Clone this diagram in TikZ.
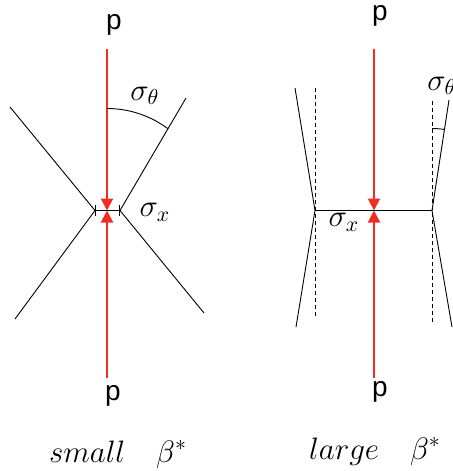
\RequirePackage{fix-cm}
\documentclass[tikz,border=0pt]{standalone}
\usepackage{fontspec}
\setmainfont{Liberation Sans}
\usepackage{tikz}
\usetikzlibrary{arrows.meta}
\definecolor{beamred}{RGB}{240,45,35}

\begin{document}
\begin{tikzpicture}[
    x=0.5pt, y=-0.5pt,
    beam/.style={draw=beamred, line width=1pt,
      -{Triangle[length=6pt,width=6pt]}},
    envelope/.style={draw=black, line width=0.45pt},
    beamaxis/.style={draw=black, line width=0.45pt, dash pattern=on 2pt off 1.5pt},
    waist/.style={envelope, {Bar[width=5.5pt]}-{Bar[width=5.5pt]}},
    plabel/.style={font=\fontsize{14}{16}\selectfont},
    mlabel/.style={font=\fontsize{15.5}{18}\selectfont}
  ]
    \useasboundingbox (0,0) rectangle (452,471);
    % small beta*
    \node[plabel] (pTopL) at (114,25) {p};
    \node[plabel] (pBotL) at (113,396) {p};
    \coordinate (beamTopL) at (107,49);
    \coordinate (beamBotL) at (107,378);
    \coordinate (focusL) at (107,210.5);
    \coordinate (waistLa) at (95,210.5);
    \coordinate (waistLb) at (120,210.5);
    \draw[envelope] (10,107) -- (waistLa) -- (15,319);
    \draw[envelope] (186,98) -- (waistLb) -- (204,313);
    \draw[waist] (waistLa) -- (waistLb);
    \draw[beam] (beamTopL) -- (focusL);
    \draw[beam] (beamBotL) -- (focusL);
    \draw[envelope] (107,108.5) arc[start angle=-90, end angle=-53.4, radius=102];
    \node[mlabel] (thetaL) at (145,96) {$\sigma_\theta$};
    \node[mlabel] (sizeL) at (155,212) {$\sigma_x$};
    \node[mlabel, anchor=base] (titleL) at (118,462) {$small\quad\beta^*$};
    % large beta*
    \node[plabel] (pTopR) at (380,16) {p};
    \node[plabel] (pBotR) at (380,392) {p};
    \coordinate (beamTopR) at (374,49);
    \coordinate (beamBotR) at (374,378);
    \coordinate (focusR) at (374,210.5);
    \coordinate (waistRa) at (315,210.5);
    \coordinate (waistRb) at (432,210.5);
    \draw[beamaxis] (315.5,88) -- (315.5,319);
    \draw[beamaxis] (432,101) -- (432,325);
    \draw[envelope] (295,88) -- (waistRa) -- (296,327);
    \draw[envelope] (449,100) -- (waistRb) -- (452,327);
    \draw[envelope] (waistRa) -- (waistRb);
    \draw[beam] (beamTopR) -- (focusR);
    \draw[beam] (beamBotR) -- (focusR);
    \draw[envelope] (432,128.5) arc[start angle=-90, end angle=-81.2, radius=82];
    \node[mlabel] (thetaR) at (442,86) {$\sigma_\theta$};
    \node[mlabel] (sizeR) at (344,222) {$\sigma_x$};
    \node[mlabel, anchor=base] (titleR) at (375,459) {$large\quad\beta^*$};
  \end{tikzpicture}
\end{document}
